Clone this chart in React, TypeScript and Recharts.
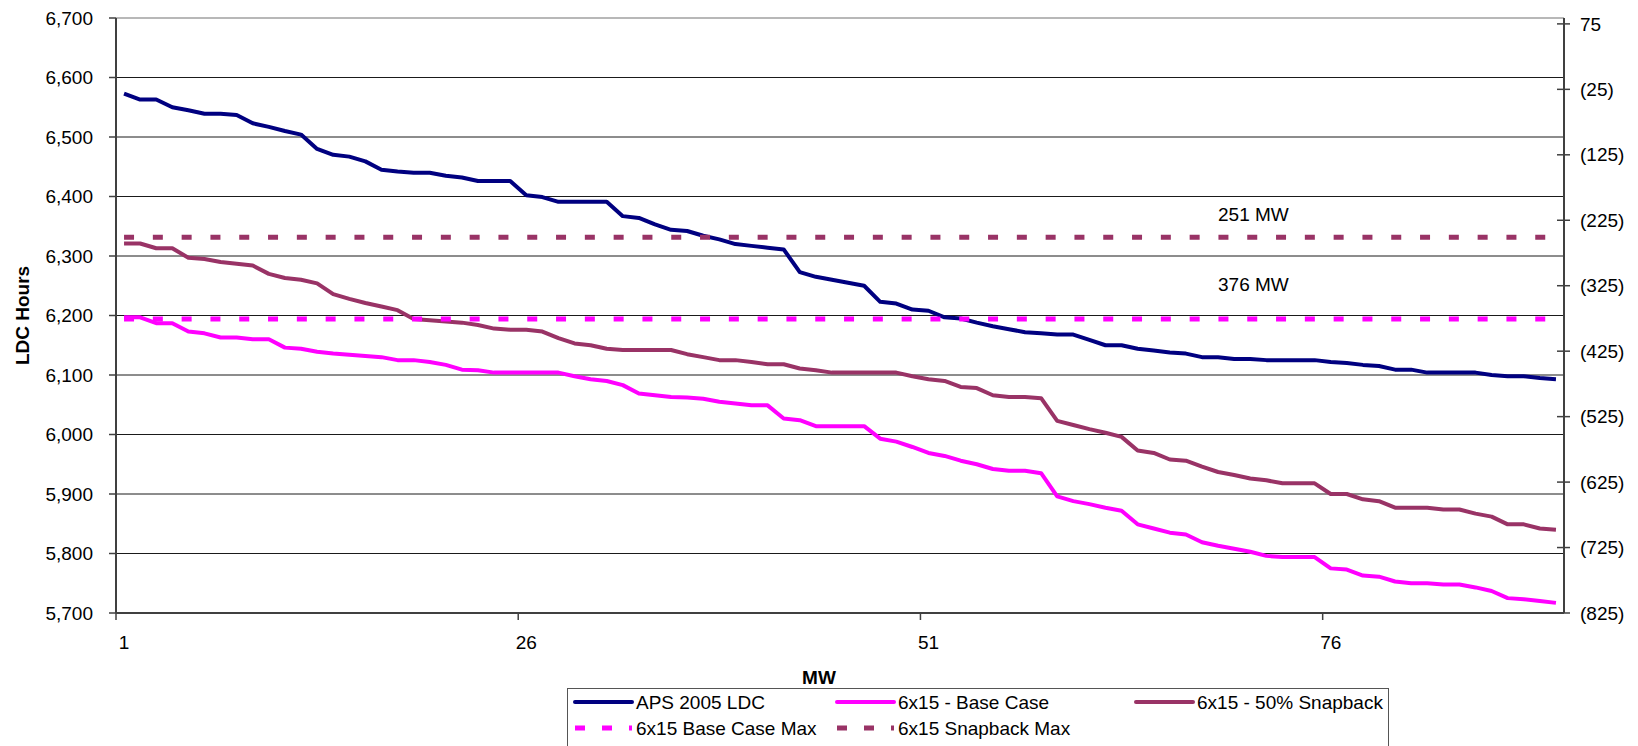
import React from "react";
import {
  LineChart,
  Line,
  XAxis,
  YAxis,
  CartesianGrid,
  ReferenceLine,
  Label,
} from "recharts";

// LDC hours per MW step (1..90)
const apsLdc = [
  6573, 6563, 6563, 6550, 6545, 6539, 6539, 6537, 6523, 6517,
  6510, 6504, 6480, 6470, 6467, 6459, 6445, 6442, 6440, 6440,
  6435, 6432, 6426, 6426, 6426, 6402, 6399, 6391, 6391, 6391,
  6391, 6367, 6364, 6353, 6344, 6342, 6334, 6328, 6320, 6317,
  6314, 6311, 6273, 6265, 6260, 6255, 6250, 6223, 6220, 6210,
  6208, 6197, 6195, 6188, 6182, 6177, 6172, 6170, 6168, 6168,
  6159, 6150, 6150, 6144, 6141, 6138, 6136, 6130, 6130, 6127,
  6127, 6125, 6125, 6125, 6125, 6122, 6120, 6117, 6115, 6109,
  6109, 6104, 6104, 6104, 6104, 6100, 6098, 6098, 6095, 6093,
];

const baseCase = [
  6197, 6197, 6187, 6187, 6173, 6170, 6163, 6163, 6160, 6160,
  6146, 6144, 6139, 6136, 6134, 6132, 6130, 6125, 6125, 6122,
  6117, 6109, 6108, 6104, 6104, 6104, 6104, 6104, 6098, 6093,
  6090, 6083, 6069, 6066, 6063, 6062, 6060, 6055, 6052, 6049,
  6049, 6027, 6024, 6014, 6014, 6014, 6014, 5993, 5988, 5979,
  5969, 5964, 5956, 5950, 5942, 5939, 5939, 5935, 5896, 5888,
  5883, 5877, 5872, 5849, 5842, 5835, 5832, 5819, 5813, 5808,
  5803, 5796, 5794, 5794, 5794, 5775, 5773, 5763, 5761, 5753,
  5750, 5750, 5748, 5748, 5743, 5737, 5725, 5723, 5720, 5717,
];

const snapback = [
  6321, 6321, 6313, 6313, 6297, 6295, 6290, 6287, 6284, 6270,
  6263, 6260, 6254, 6236, 6228, 6221, 6215, 6209, 6194, 6192,
  6190, 6188, 6184, 6178, 6176, 6176, 6173, 6162, 6153, 6150,
  6144, 6142, 6142, 6142, 6142, 6135, 6130, 6125, 6125, 6122,
  6118, 6118, 6111, 6108, 6104, 6104, 6104, 6104, 6104, 6098,
  6093, 6090, 6080, 6078, 6066, 6063, 6063, 6061, 6023, 6016,
  6009, 6003, 5996, 5973, 5969, 5958, 5956, 5946, 5937, 5932,
  5926, 5923, 5918, 5918, 5918, 5900, 5900, 5891, 5888, 5877,
  5877, 5877, 5874, 5874, 5867, 5862, 5849, 5849, 5842, 5840,
];

// max lines sit on the secondary axis (MW, shown negative)
const baseCaseMax = -376;
const snapbackMax = -251;

const leftTicks = [5700, 5800, 5900, 6000, 6100, 6200, 6300, 6400, 6500, 6600, 6700];
const gridValues = [5800, 5900, 6000, 6100, 6200, 6300, 6400, 6500, 6600];
const rightTicks = [-825, -725, -625, -525, -425, -325, -225, -125, -25, 75];
const mwTicks = [1, 26, 51, 76];

const data = apsLdc.map((v, i) => ({
  mw: i + 1,
  aps: v,
  base: baseCase[i],
  snap: snapback[i],
  baseMax: baseCaseMax,
  snapMax: snapbackMax,
}));

const FONT = "'Liberation Sans', Arial, sans-serif";
const AXIS = "#404040";
const PLOT_LEFT = 116;
const PLOT_RIGHT = 1564;
const BAND = (PLOT_RIGHT - PLOT_LEFT) / apsLdc.length;

const series = [
  { key: "aps", name: "APS 2005 LDC", color: "#000080", dashed: false, row: 0, col: 0 },
  { key: "base", name: "6x15 - Base Case", color: "#FF00FF", dashed: false, row: 0, col: 1 },
  { key: "snap", name: "6x15 - 50% Snapback", color: "#993366", dashed: false, row: 0, col: 2 },
  { key: "baseMax", name: "6x15 Base Case Max", color: "#FF00FF", dashed: true, row: 1, col: 0 },
  { key: "snapMax", name: "6x15 Snapback Max", color: "#993366", dashed: true, row: 1, col: 1 },
];

const fmtRight = (v: number) => (v < 0 ? `(${-v})` : `${v}`);

const MwTick = ({ x, y, payload }: any) => (
  <g>
    <line x1={x - BAND / 2} x2={x - BAND / 2} y1={y} y2={y + 7} stroke={AXIS} strokeWidth={1.5} />
    <text x={x} y={y + 36} textAnchor="middle" fontSize={19} fontFamily={FONT} fill="#000">
      {payload.value}
    </text>
  </g>
);

const RightTick = ({ x, y, payload }: any) => (
  <g>
    <line x1={x - 7} x2={x + 6} y1={y} y2={y} stroke={AXIS} strokeWidth={1.5} />
    <text x={x + 16} y={y} dy="0.35em" textAnchor="start" fontSize={19} fontFamily={FONT} fill="#000">
      {fmtRight(payload.value)}
    </text>
  </g>
);

const mwNote = (text: string, lift: number) => (props: any) => {
  const vb = props.viewBox || {};
  return (
    <text x={1218} y={vb.y - lift} fontSize={19} fontFamily={FONT} fill="#000">
      {text}
    </text>
  );
};

const colSymbol = [8, 270, 569];
const colText = [69, 331, 630];
const rowMid = [14, 40];

function ChartLegend() {
  return (
    <div
      style={{
        position: "absolute",
        left: 567,
        top: 688,
        width: 822,
        height: 70,
        border: "1px solid #555",
        background: "#fff",
        boxSizing: "border-box",
      }}
    >
      <svg width={822} height={70} style={{ position: "absolute", left: -1, top: -1 }}>
        {series.map((s) => {
          const x0 = colSymbol[s.col];
          const y = rowMid[s.row];
          return (
            <g key={s.key}>
              <line
                x1={x0}
                x2={x0 + 57}
                y1={y}
                y2={y}
                stroke={s.color}
                strokeWidth={s.dashed ? 5 : 4}
                strokeDasharray={s.dashed ? "10 17" : undefined}
                strokeLinecap={s.dashed ? "butt" : "round"}
              />
              <text x={colText[s.col]} y={y} dy="0.35em" fontSize={19} fontFamily={FONT} fill="#000">
                {s.name}
              </text>
            </g>
          );
        })}
      </svg>
    </div>
  );
}

export default function App() {
  return (
    <div
      style={{
        position: "absolute",
        left: 0,
        top: 0,
        width: 1638,
        height: 746,
        overflow: "hidden",
        background: "#fff",
        fontFamily: FONT,
      }}
    >
      <LineChart
        width={1638}
        height={746}
        data={data}
        margin={{ top: 18, right: 0, bottom: 0, left: 0 }}
      >
        <CartesianGrid
          yAxisId="left"
          vertical={false}
          stroke="#1a1a1a"
          strokeWidth={1}
          horizontalValues={gridValues}
        />
        <XAxis
          dataKey="mw"
          type="number"
          domain={[0.5, apsLdc.length + 0.5]}
          ticks={mwTicks}
          interval={0}
          height={133}
          tickSize={0}
          tickMargin={0}
          tickLine={false}
          tick={(p: any) => <MwTick {...p} />}
          axisLine={{ stroke: AXIS, strokeWidth: 2 }}
        >
          <Label
            content={() => (
              <text x={819} y={684} textAnchor="middle" fontSize={19} fontWeight="bold" fontFamily={FONT} fill="#000">
                MW
              </text>
            )}
          />
        </XAxis>
        <YAxis
          yAxisId="left"
          domain={[5700, 6700]}
          ticks={leftTicks}
          interval={0}
          width={116}
          tickSize={7}
          tickMargin={16}
          tickFormatter={(v: number) => v.toLocaleString("en-US")}
          tick={{ fill: "#000", fontSize: 19, fontFamily: FONT }}
          tickLine={{ stroke: AXIS, strokeWidth: 1.5 }}
          axisLine={{ stroke: AXIS, strokeWidth: 2 }}
        >
          <Label
            content={(props: any) => {
              const vb = props.viewBox || { y: 18, height: 595 };
              const cy = vb.y + vb.height / 2;
              return (
                <text
                  x={22}
                  y={cy}
                  transform={`rotate(-90, 22, ${cy})`}
                  textAnchor="middle"
                  dy="0.35em"
                  fontSize={19}
                  fontWeight="bold"
                  fontFamily={FONT}
                  fill="#000"
                >
                  LDC Hours
                </text>
              );
            }}
          />
        </YAxis>
        <YAxis
          yAxisId="right"
          orientation="right"
          domain={[-825, 84]}
          ticks={rightTicks}
          interval={0}
          width={74}
          tickSize={0}
          tickMargin={0}
          tickLine={false}
          tick={(p: any) => <RightTick {...p} />}
          axisLine={{ stroke: AXIS, strokeWidth: 2 }}
        />
        <ReferenceLine yAxisId="left" y={6700} stroke="#a0a0a0" strokeWidth={1.5} />
        <ReferenceLine yAxisId="right" y={snapbackMax} stroke="none" label={mwNote("251 MW", 16)} />
        <ReferenceLine yAxisId="right" y={baseCaseMax} stroke="none" label={mwNote("376 MW", 28)} />

        {series.map((s) => (
          <Line
            key={s.key}
            yAxisId={s.dashed ? "right" : "left"}
            type="linear"
            dataKey={s.key}
            name={s.name}
            stroke={s.color}
            strokeWidth={s.dashed ? 5 : 4}
            strokeDasharray={s.dashed ? "10 18.8" : undefined}
            strokeLinejoin="round"
            dot={false}
            activeDot={false}
            isAnimationActive={false}
          />
        ))}
      </LineChart>
      <ChartLegend />
    </div>
  );
}
